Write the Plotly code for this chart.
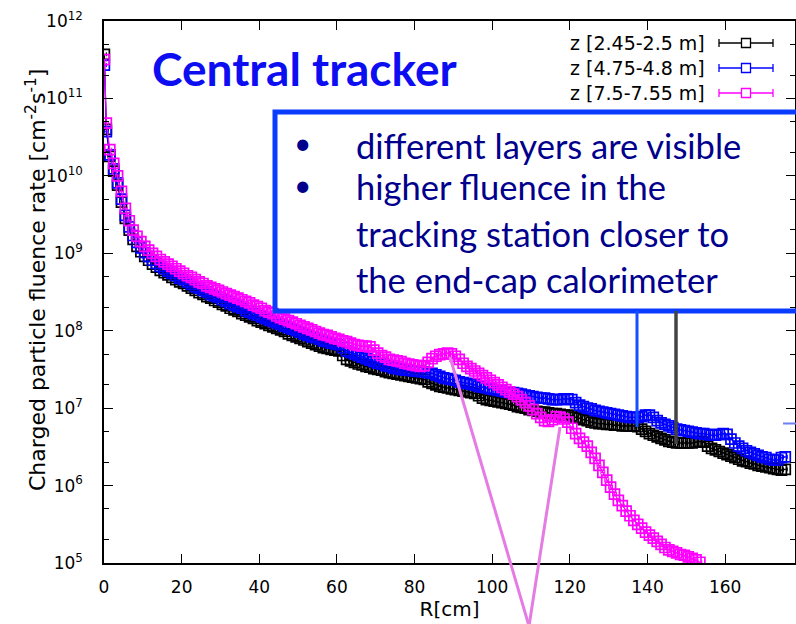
import numpy as np
import plotly.graph_objects as go

# log10 of the charged particle fluence rate [cm^-2 s^-1] per radial bin
# first two bins: R = 0.1 and 0.6 cm, then 1 cm bins centred on k + 0.5
log_rate_z245 = [
    11.57, 10.60,
    10.25, 10.06, 9.88, 9.66, 9.45, 9.30, 9.18, 9.09, 9.02, 8.96,
    8.91, 8.86, 8.82, 8.78, 8.75, 8.72, 8.69, 8.66, 8.63, 8.61,
    8.58, 8.55, 8.52, 8.49, 8.47, 8.44, 8.42, 8.39, 8.37, 8.34,
    8.32, 8.29, 8.27, 8.25, 8.22, 8.20, 8.18, 8.16, 8.13, 8.11,
    8.09, 8.07, 8.05, 8.03, 8.01, 7.99, 7.96, 7.94, 7.92, 7.90,
    7.88, 7.86, 7.84, 7.82, 7.80, 7.78, 7.77, 7.76, 7.75, 7.74,
    7.68, 7.63, 7.61, 7.59, 7.57, 7.56, 7.54, 7.53, 7.51, 7.50,
    7.49, 7.47, 7.46, 7.45, 7.44, 7.43, 7.42, 7.41, 7.40, 7.39,
    7.38, 7.37, 7.34, 7.32, 7.30, 7.28, 7.27, 7.26, 7.25, 7.24,
    7.23, 7.22, 7.21, 7.20, 7.19, 7.16, 7.13, 7.11, 7.10, 7.09,
    7.08, 7.07, 7.06, 7.05, 7.04, 7.02, 7.01, 7.00, 6.98, 6.97,
    6.96, 6.95, 6.95, 6.94, 6.93, 6.93, 6.92, 6.91, 6.91, 6.90,
    6.88, 6.87, 6.85, 6.84, 6.82, 6.81, 6.80, 6.80, 6.79, 6.79,
    6.78, 6.78, 6.77, 6.77, 6.77, 6.77, 6.76, 6.73, 6.70, 6.67,
    6.65, 6.63, 6.61, 6.59, 6.57, 6.56, 6.55, 6.55, 6.55, 6.55,
    6.55, 6.56, 6.57, 6.56, 6.51, 6.48, 6.46, 6.44, 6.42, 6.40,
    6.38, 6.36, 6.34, 6.32, 6.31, 6.29, 6.28, 6.26, 6.25, 6.24,
    6.23, 6.22, 6.21, 6.20, 6.21,
]

log_rate_z475 = [
    11.43, 10.57,
    10.27, 10.09, 9.91, 9.70, 9.49, 9.34, 9.23, 9.14, 9.07, 9.01,
    8.96, 8.91, 8.87, 8.83, 8.80, 8.77, 8.74, 8.71, 8.68, 8.66,
    8.63, 8.60, 8.57, 8.55, 8.52, 8.50, 8.47, 8.45, 8.43, 8.40,
    8.38, 8.35, 8.33, 8.31, 8.29, 8.26, 8.24, 8.22, 8.20, 8.18,
    8.16, 8.14, 8.12, 8.10, 8.08, 8.06, 8.04, 8.02, 8.00, 7.98,
    7.96, 7.94, 7.92, 7.91, 7.89, 7.87, 7.86, 7.84, 7.83, 7.82,
    7.78, 7.74, 7.72, 7.70, 7.68, 7.66, 7.64, 7.62, 7.60, 7.58,
    7.57, 7.55, 7.54, 7.52, 7.51, 7.50, 7.49, 7.49, 7.48, 7.48,
    7.47, 7.47, 7.46, 7.45, 7.43, 7.41, 7.39, 7.38, 7.37, 7.36,
    7.34, 7.33, 7.32, 7.31, 7.30, 7.28, 7.27, 7.26, 7.25, 7.24,
    7.23, 7.22, 7.21, 7.20, 7.20, 7.19, 7.18, 7.17, 7.16, 7.15,
    7.14, 7.13, 7.13, 7.12, 7.11, 7.11, 7.11, 7.12, 7.12, 7.11,
    7.07, 7.04, 7.02, 7.00, 6.99, 6.97, 6.96, 6.95, 6.94, 6.93,
    6.92, 6.91, 6.90, 6.89, 6.88, 6.88, 6.88, 6.89, 6.91, 6.91,
    6.88, 6.84, 6.81, 6.79, 6.77, 6.75, 6.73, 6.72, 6.71, 6.70,
    6.69, 6.68, 6.67, 6.67, 6.66, 6.65, 6.65, 6.66, 6.67, 6.66,
    6.60, 6.55, 6.51, 6.48, 6.45, 6.43, 6.41, 6.39, 6.37, 6.36,
    6.34, 6.33, 6.33, 6.36, 6.37,
]

log_rate_z750 = [
    11.50, 10.68,
    10.34, 10.16, 10.00, 9.80, 9.58, 9.42, 9.30, 9.22, 9.15, 9.09,
    9.04, 9.00, 8.96, 8.92, 8.89, 8.86, 8.83, 8.80, 8.77, 8.74,
    8.71, 8.69, 8.66, 8.63, 8.61, 8.58, 8.56, 8.54, 8.52, 8.50,
    8.48, 8.46, 8.44, 8.42, 8.40, 8.38, 8.36, 8.33, 8.31, 8.29,
    8.26, 8.24, 8.22, 8.19, 8.17, 8.15, 8.13, 8.11, 8.09, 8.07,
    8.05, 8.03, 8.01, 7.99, 7.97, 7.95, 7.94, 7.92, 7.90, 7.89,
    7.87, 7.86, 7.84, 7.82, 7.81, 7.80, 7.80, 7.79, 7.75, 7.71,
    7.68, 7.66, 7.63, 7.62, 7.61, 7.60, 7.58, 7.57, 7.56, 7.55,
    7.54, 7.55, 7.59, 7.64, 7.67, 7.69, 7.70, 7.71, 7.70, 7.67,
    7.63, 7.58, 7.54, 7.51, 7.48, 7.45, 7.42, 7.39, 7.36, 7.33,
    7.30, 7.27, 7.24, 7.21, 7.18, 7.15, 7.11, 7.07, 7.03, 6.98,
    6.93, 6.88, 6.84, 6.83, 6.85, 6.89, 6.88, 6.86, 6.82, 6.74,
    6.67, 6.61, 6.56, 6.51, 6.43, 6.35, 6.26, 6.17, 6.07, 5.98,
    5.89, 5.81, 5.74, 5.67, 5.61, 5.55, 5.50, 5.45, 5.40, 5.36,
    5.32, 5.28, 5.24, 5.20, 5.17, 5.15, 5.13, 5.11, 5.10, 5.08,
    5.06, 5.04, 5.01,
]

series_labels = ["z [2.45-2.5 m]", "z [4.75-4.8 m]", "z [7.5-7.55 m]"]
series_colors = ["#000000", "#0000ff", "#ff00ff"]
series_logs = [log_rate_z245, log_rate_z475, log_rate_z750]

y_decades = list(range(5, 13))
y_ticktext = ["10<sup>%d</sup>" % k for k in y_decades]
x_ticks = [0, 20, 40, 60, 80, 100, 120, 140, 160]

# figure geometry (pixels)
W, H = 796, 624
ML, MR, MT, MB = 104, 1, 21, 61
PW, PH = W - ML - MR, H - MT - MB


def px(x):
    return (x - ML) / PW


def py(y):
    return (H - MB - y) / PH


def bin_centres(n):
    return [0.1, 0.6] + [k + 0.5 for k in range(1, n - 1)]


fig = go.Figure()
for logs, color in zip(series_logs, series_colors):
    r = bin_centres(len(logs))
    fig.add_trace(go.Scatter(
        x=r, y=np.power(10.0, logs), mode="lines+markers",
        line=dict(color=color, width=1.2),
        marker=dict(symbol="square-open", size=10, color=color,
                    line=dict(width=1.7, color=color)),
        error_x=dict(type="constant", value=0.5, color=color,
                     thickness=1, width=2),
        showlegend=False, hoverinfo="skip",
    ))

axis_font = dict(family="DejaVu Sans", size=17, color="black")
fig.update_layout(
    width=W, height=H, margin=dict(l=ML, r=MR, t=MT, b=MB),
    paper_bgcolor="white", plot_bgcolor="white", showlegend=False,
    xaxis=dict(
        range=[0, 178], tickvals=x_ticks, ticks="inside", ticklen=9,
        tickwidth=1.3, tickcolor="black", mirror="ticks", showline=True,
        linecolor="black", linewidth=1.5, showgrid=False, zeroline=False,
        tickfont=axis_font, ticklabelstandoff=8, automargin=False,
        title=dict(text="R[cm]", font=dict(family="DejaVu Sans", size=20,
                                          color="black"), standoff=4),
    ),
    yaxis=dict(
        type="log", range=[5, 12], tickvals=[10.0 ** k for k in y_decades],
        ticktext=y_ticktext, ticks="inside", ticklen=9, tickwidth=1.3,
        tickcolor="black", mirror="ticks", showline=True, linecolor="black",
        linewidth=1.5, showgrid=False, zeroline=False, tickfont=axis_font,
        ticklabelstandoff=16, automargin=False,
        minor=dict(tickvals=[m * 10.0 ** k for k in range(5, 12) for m in (2, 5)],
                   ticks="inside", ticklen=5, tickwidth=1.3, tickcolor="black",
                   showgrid=False),
    ),
)

shapes = []
annotations = []

# vertical axis title
annotations.append(dict(
    text="Charged particle fluence rate [cm<sup>-2</sup>s<sup>-1</sup>]",
    x=px(36), y=py(280), xref="paper", yref="paper", textangle=-90,
    xanchor="center", yanchor="middle", showarrow=False,
    font=dict(family="DejaVu Sans", size=22, color="black")))

# key in the top right corner: label, then errorbar sample with a square
legend_rows_y = [43, 68, 93]
for label, color, yrow in zip(series_labels, series_colors, legend_rows_y):
    annotations.append(dict(
        text=label, x=px(707), y=py(yrow), xref="paper", yref="paper",
        xanchor="right", yanchor="middle", showarrow=False,
        font=dict(family="DejaVu Sans", size=19, color="black")))
    shapes.append(dict(type="line", xref="paper", yref="paper",
                       x0=px(719), x1=px(773), y0=py(yrow), y1=py(yrow),
                       line=dict(color=color, width=1.3)))
    for xc in (719, 773):
        shapes.append(dict(type="line", xref="paper", yref="paper",
                           x0=px(xc), x1=px(xc), y0=py(yrow - 4), y1=py(yrow + 4),
                           line=dict(color=color, width=1.3)))
    shapes.append(dict(type="rect", xref="paper", yref="paper",
                       x0=px(741.5), x1=px(750.5), y0=py(yrow - 4.5),
                       y1=py(yrow + 4.5), fillcolor="white",
                       line=dict(color=color, width=1.3)))

# headline
annotations.append(dict(
    text="Central tracker", x=px(150), y=py(68), xref="paper", yref="paper",
    xanchor="left", yanchor="middle", showarrow=False,
    font=dict(family="Lato", size=46, color="#0d0df2", weight="bold")))

# comment box
shapes.append(dict(type="rect", xref="paper", yref="paper", layer="above",
                   x0=px(275), x1=px(805), y0=py(311), y1=py(112),
                   line=dict(color="#0a3cff", width=5)))
box_lines = [
    ("different layers are visible", 145.6),
    ("higher fluence in the", 186.6),
    ("tracking station closer to", 233.6),
    ("the end-cap calorimeter", 279.6),
]
text_color = "#00008c"
for txt, yline in box_lines:
    annotations.append(dict(
        text=txt, x=px(354), y=py(yline), xref="paper", yref="paper",
        xanchor="left", yanchor="middle", showarrow=False,
        font=dict(family="Lato", size=34.5, color=text_color)))
for ybul in (141.5, 184):
    annotations.append(dict(
        text="\u2022", x=px(302), y=py(ybul), xref="paper", yref="paper",
        xanchor="center", yanchor="middle", showarrow=False,
        font=dict(family="Lato", size=30, color=text_color)))

# pointer lines from the box to the curves
pointer_lines = [
    ((637, 311), (637, 427), "#1450ff", 3),
    ((676, 311), (676, 444), "#444444", 3.5),
    ((450, 357), (529, 626), "#e47ce4", 3),
    ((529, 626), (560, 427), "#e47ce4", 3),
    ((783, 423.5), (797, 423.5), "#6f7ff0", 2),
]
for (xa, ya), (xb, yb), color, width in pointer_lines:
    shapes.append(dict(type="line", xref="paper", yref="paper", layer="above",
                       x0=px(xa), y0=py(ya), x1=px(xb), y1=py(yb),
                       line=dict(color=color, width=width)))

fig.update_layout(shapes=shapes, annotations=annotations)
fig.write_html("out.html")
